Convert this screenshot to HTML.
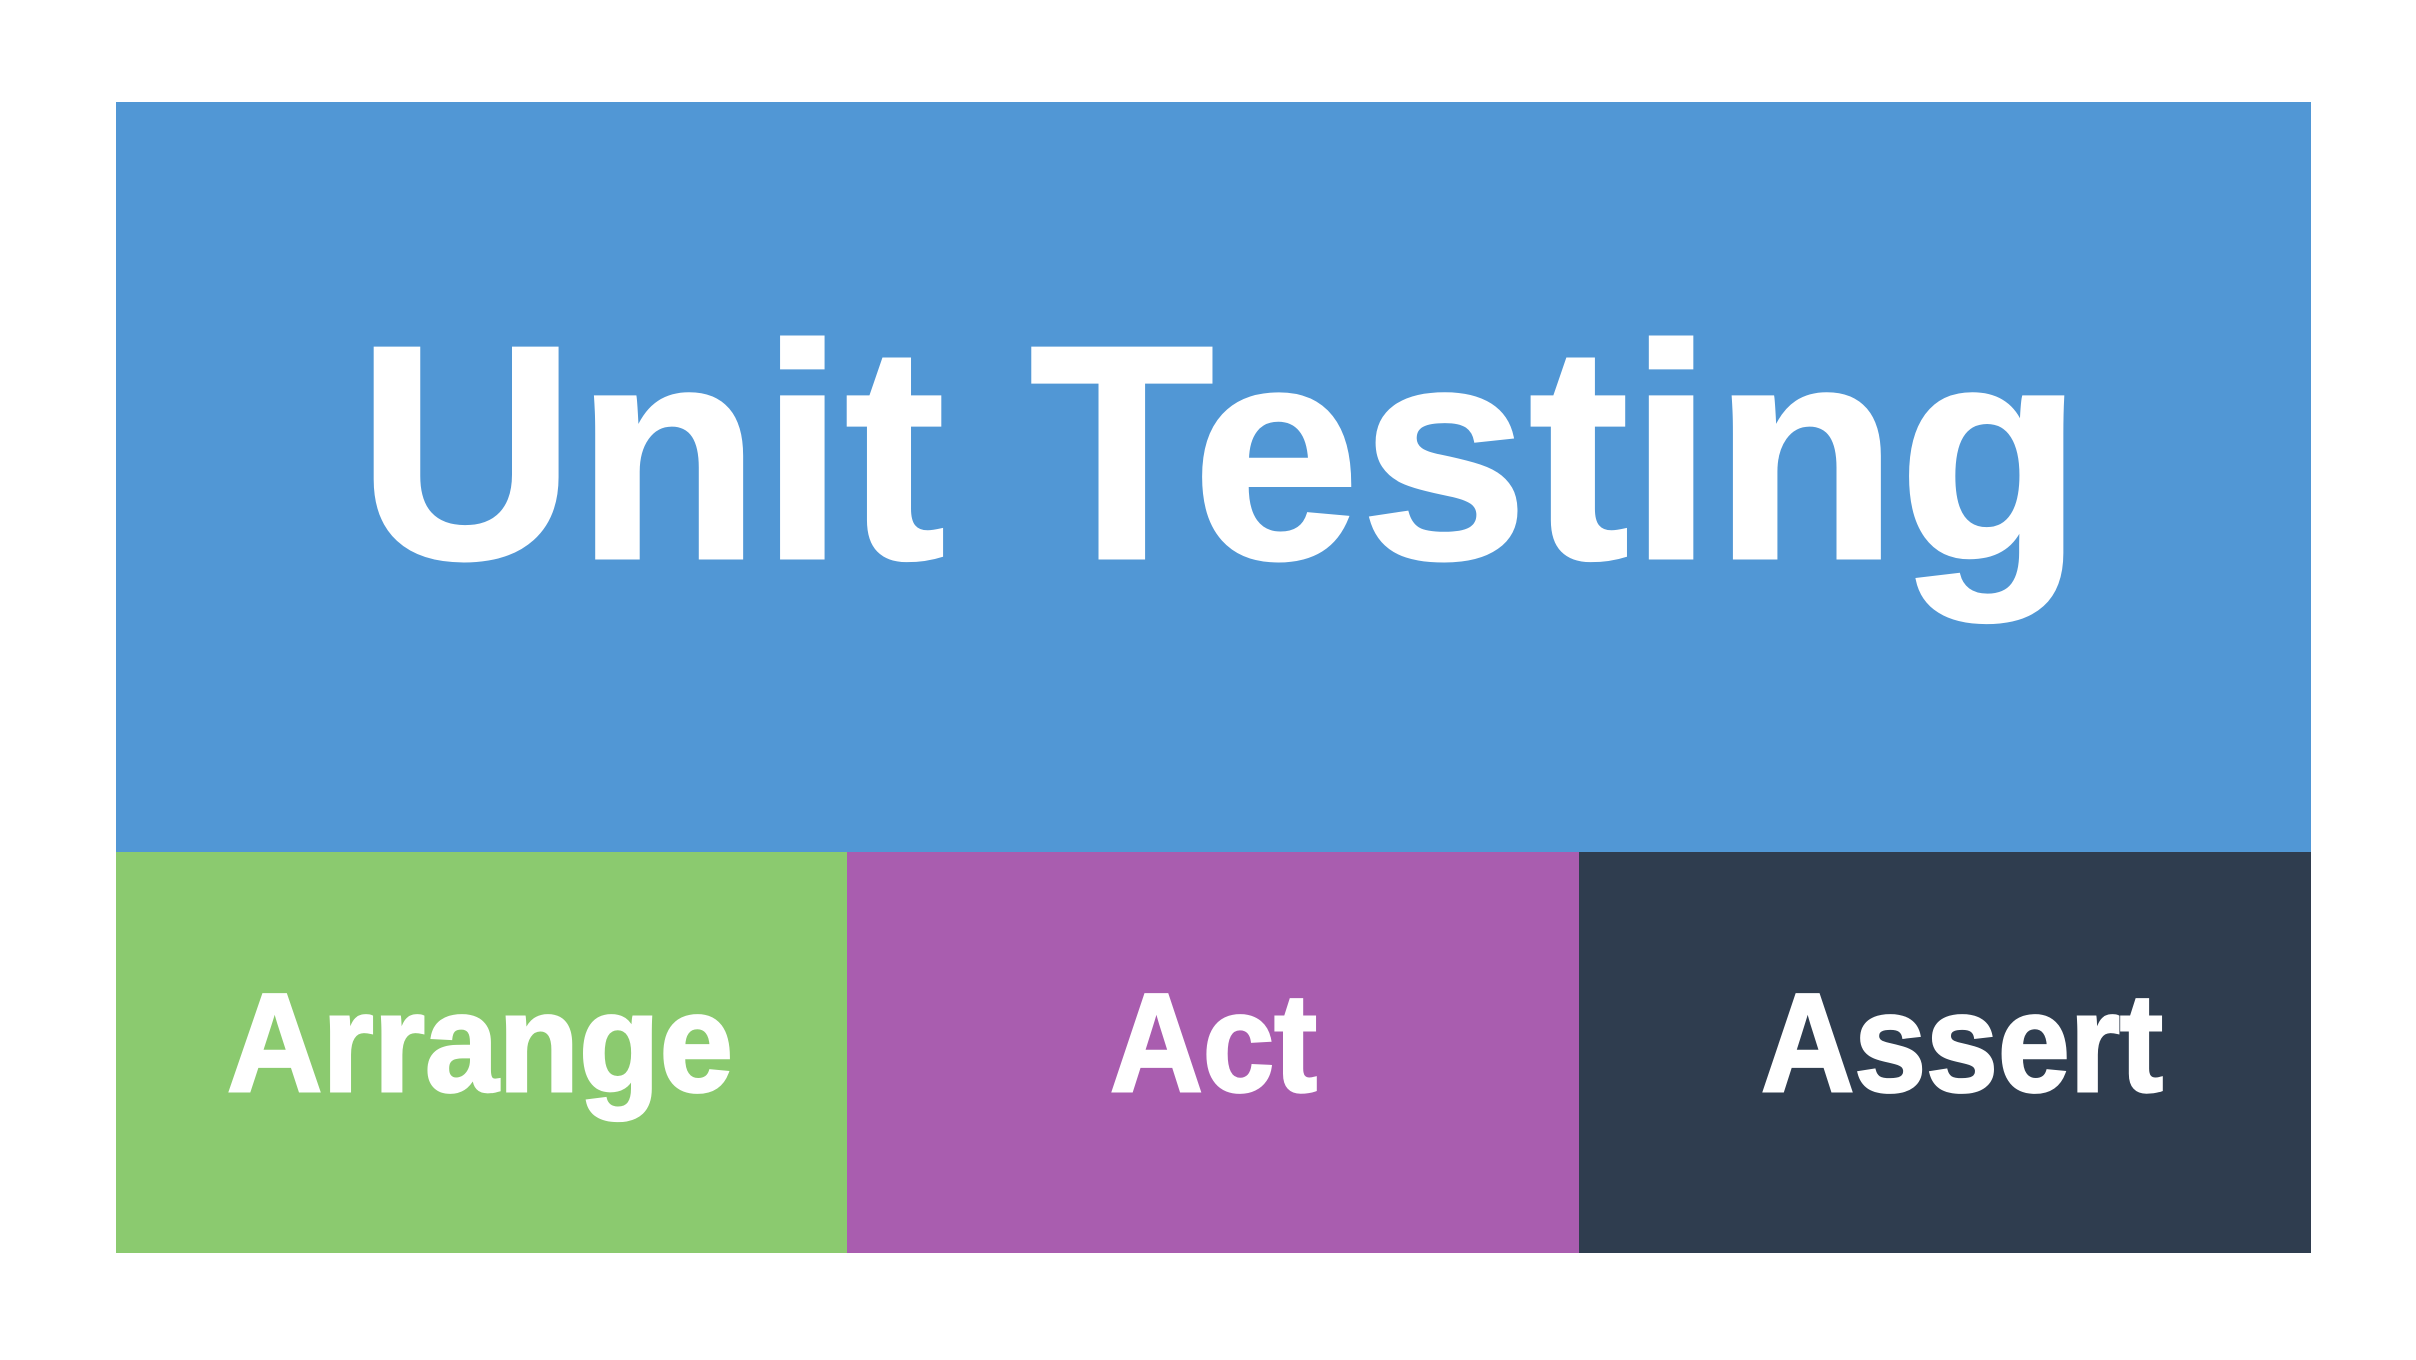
<!DOCTYPE html>
<html><head><style>html,body{margin:0;padding:0;background:#fff}svg{display:block}</style></head>
<body>
<svg width="2416" height="1360" viewBox="0 0 2416 1360" xmlns="http://www.w3.org/2000/svg">
<rect x="0" y="0" width="2416" height="1360" fill="#fff"/>
<rect x="116" y="102" width="2195" height="750" fill="#5197d5"/>
<rect x="116" y="852" width="731" height="401" fill="#8bca6f"/>
<rect x="847" y="852" width="732" height="401" fill="#a95daf"/>
<rect x="1579" y="852" width="732" height="401" fill="#2f3d4f"/>
<g font-family="Liberation Sans, sans-serif" font-weight="bold" fill="#fff" stroke="#fff" stroke-width="3">
<text x="357" y="558" font-size="305" textLength="1726" lengthAdjust="spacingAndGlyphs">Unit Testing</text>
<text x="227" y="1091" font-size="140" textLength="506" lengthAdjust="spacingAndGlyphs">Arrange</text>
<text x="1110" y="1091" font-size="140" textLength="207" lengthAdjust="spacingAndGlyphs">Act</text>
<text x="1761" y="1091" font-size="140" textLength="402" lengthAdjust="spacingAndGlyphs">Assert</text>
</g>
</svg>
</body></html>
